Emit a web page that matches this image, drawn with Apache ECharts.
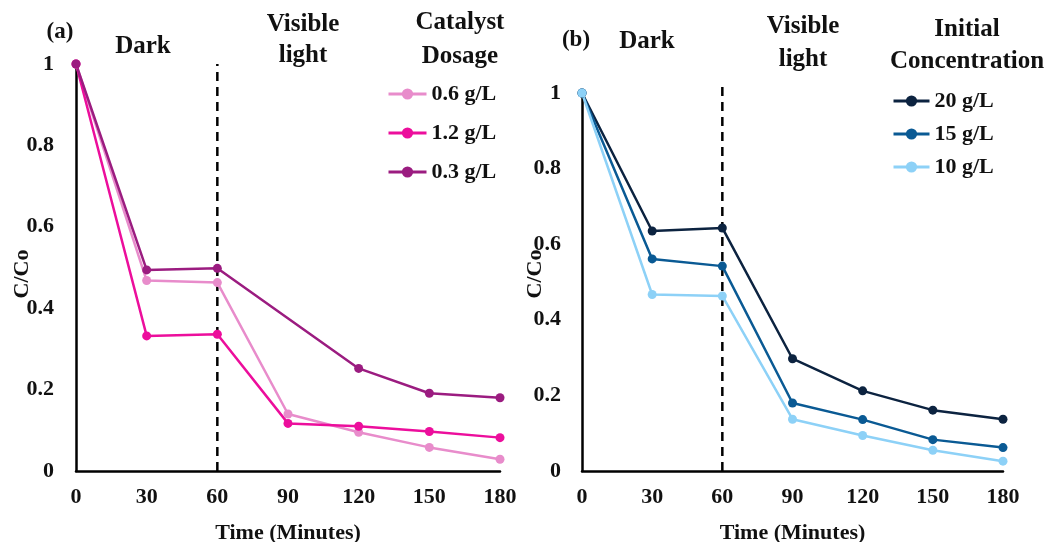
<!DOCTYPE html>
<html>
<head>
<meta charset="utf-8">
<script src="https://cdn.jsdelivr.net/npm/echarts@6/dist/echarts.min.js"></script>
<style>
  html, body { margin: 0; padding: 0; background: #fff; }
  #chart { width: 1060px; height: 542px; }
</style>
</head>
<body>
<div id="chart"></div>
<script>
// Sampling times (minutes)
const times = [0, 30, 60, 90, 120, 150, 180];
const xTicks = [0, 30, 60, 90, 120, 150, 180];

// (a) Catalyst dosage series, C/Co
const dosageNames = ['0.6 g/L', '1.2 g/L', '0.3 g/L'];
const dose06 = [1, 0.468, 0.463, 0.140, 0.095, 0.058, 0.029];
const dose12 = [1, 0.332, 0.336, 0.117, 0.110, 0.097, 0.082];
const dose03 = [1, 0.494, 0.498, null, 0.252, 0.191, 0.180];

// (b) Initial concentration series, C/Co
const concNames = ['20 g/L', '15 g/L', '10 g/L'];
const conc20 = [1, 0.635, 0.643, 0.297, 0.212, 0.161, 0.137];
const conc15 = [1, 0.561, 0.542, 0.180, 0.136, 0.083, 0.062];
const conc10 = [1, 0.467, 0.463, 0.137, 0.094, 0.055, 0.026];

// Dark / visible-light boundary (minutes) and the C/Co height each dashed divider reaches
const lightOnTime = 60;
const dividerTop = [1, 1.03];

const FONT = '"Liberation Serif", "Times New Roman", serif';
const pair = vals => times.map((t, i) => [t, vals[i]]);

function xAxisFor(gridIndex) {
  return {
    type: 'value', gridIndex, min: 0, max: 180, interval: 30,
    name: 'Time (Minutes)', nameLocation: 'middle', nameGap: 51,
    nameTextStyle: { fontFamily: FONT, fontWeight: 'bold', fontSize: 22, color: '#111' },
    axisLine: { lineStyle: { color: '#000', width: 2.5 } },
    axisTick: { show: false }, splitLine: { show: false },
    axisLabel: {
      fontFamily: FONT, fontWeight: 'bold', fontSize: 22, color: '#111', margin: 15,
      customValues: xTicks
    }
  };
}
function yAxisFor(gridIndex, margin) {
  return {
    type: 'value', gridIndex, min: 0, max: 1, interval: 0.2,
    axisLine: { show: true, lineStyle: { color: '#000', width: 2.5 } },
    axisTick: { show: false }, splitLine: { show: false },
    axisLabel: {
      fontFamily: FONT, fontWeight: 'bold', fontSize: 22, color: '#111', margin,
      formatter: v => String(+v.toFixed(1))
    }
  };
}
function lineSeries(name, vals, color, axisIdx) {
  return {
    name, type: 'line', xAxisIndex: axisIdx, yAxisIndex: axisIdx,
    data: pair(vals), connectNulls: true,
    symbol: 'circle', symbolSize: 9,
    lineStyle: { color, width: 2.5 }, itemStyle: { color },
    emphasis: { disabled: true }, animation: false
  };
}

const txt = (x, y, text, size) => ({
  type: 'text', x, y,
  style: {
    text, fill: '#111', font: `bold ${size}px ${FONT}`,
    align: 'center', verticalAlign: 'middle'
  }
});
const vtxt = (x, y, text) => ({
  type: 'text', x, y, rotation: Math.PI / 2,
  style: { text, fill: '#111', font: `bold 22px ${FONT}`, align: 'center', verticalAlign: 'middle' }
});

const legendText = { fontFamily: FONT, fontWeight: 'bold', fontSize: 22, lineHeight: 20, color: '#111' };

const chart = echarts.init(document.getElementById('chart'), null, { renderer: 'canvas' });
chart.setOption({
  backgroundColor: '#fff',
  animation: false,
  grid: [
    { left: 76, right: 560, top: 64, bottom: 71, outerBoundsMode: 'none' },
    { left: 582, right: 57, top: 93, bottom: 71, outerBoundsMode: 'none' }
  ],
  xAxis: [xAxisFor(0), xAxisFor(1)],
  yAxis: [yAxisFor(0, 22), yAxisFor(1, 21)],
  legend: [
    {
      data: dosageNames, orient: 'vertical', left: 382, top: 78,
      itemWidth: 38, itemHeight: 14, itemGap: 17, selectedMode: false,
      lineStyle: { width: 3 },
      textStyle: legendText
    },
    {
      data: concNames, orient: 'vertical', left: 887, top: 85,
      itemWidth: 36, itemHeight: 14, itemGap: 11, selectedMode: false,
      lineStyle: { width: 3 },
      textStyle: legendText
    }
  ],
  series: [
    lineSeries('0.6 g/L', dose06, '#E88CCB', 0),
    lineSeries('1.2 g/L', dose12, '#EC0E9C', 0),
    lineSeries('0.3 g/L', dose03, '#9B1C80', 0),
    lineSeries('20 g/L', conc20, '#0C2340', 1),
    lineSeries('15 g/L', conc15, '#0A5A94', 1),
    lineSeries('10 g/L', conc10, '#8DD1F7', 1)
  ]
});

// Dashed dark/light dividers, placed through each grid's own scales
const dividers = [0, 1].map(g => {
  const p0 = chart.convertToPixel({ gridIndex: g }, [lightOnTime, 0]);
  const p1 = chart.convertToPixel({ gridIndex: g }, [lightOnTime, dividerTop[g]]);
  return {
    type: 'line', z: 1, silent: true,
    shape: { x1: p0[0], y1: p0[1], x2: p1[0], y2: p1[1] },
    style: { stroke: '#000', lineWidth: 2.5, lineDash: [9, 6] }
  };
});

chart.setOption({
  graphic: dividers.concat([
    txt(60, 32, '(a)', 23),
    txt(143, 47, 'Dark', 25),
    txt(303, 25, 'Visible', 25),
    txt(303, 56, 'light', 25),
    txt(460, 23, 'Catalyst', 25),
    txt(460, 57, 'Dosage', 25),
    vtxt(22, 274, 'C/Co'),
    txt(576, 40, '(b)', 23),
    txt(647, 42, 'Dark', 25),
    txt(803, 27, 'Visible', 25),
    txt(803, 60, 'light', 25),
    txt(967, 30, 'Initial', 25),
    txt(967, 62, 'Concentration', 25),
    vtxt(535, 274, 'C/Co')
  ])
});
</script>
</body>
</html>
